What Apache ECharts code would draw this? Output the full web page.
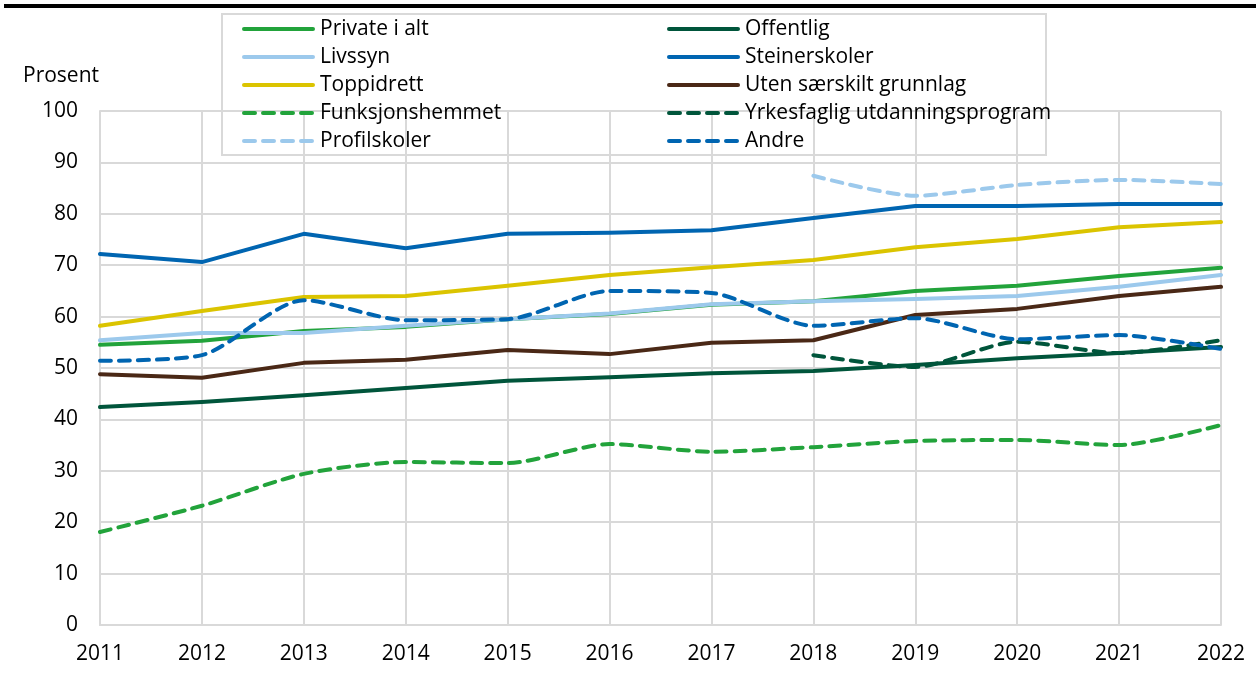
<!DOCTYPE html>
<html>
<head>
<meta charset="utf-8">
<script src="https://cdn.jsdelivr.net/npm/echarts@6/dist/echarts.min.js"></script>
<style>
  html, body { margin: 0; padding: 0; background: #fff; }
  #chart { width: 1258px; height: 675px; }
</style>
</head>
<body>
<div id="chart"></div>
<script>
// Years on the x axis
const years = ['2011','2012','2013','2014','2015','2016','2017','2018','2019','2020','2021','2022'];
const yTicks = [0, 10, 20, 30, 40, 50, 60, 70, 80, 90, 100];

// Share in percent per school group
const privateIAlt      = [54.5, 55.3, 57.2, 58.0, 59.5, 60.5, 62.3, 63.0, 65.0, 66.0, 67.9, 69.5];
const offentlig        = [42.4, 43.4, 44.7, 46.1, 47.5, 48.2, 49.0, 49.4, 50.6, 51.9, 52.9, 54.1];
const livssyn          = [55.4, 56.8, 56.8, 58.2, 59.5, 60.6, 62.4, 63.0, 63.4, 64.0, 65.8, 68.1];
const steinerskoler    = [72.2, 70.6, 76.1, 73.3, 76.1, 76.3, 76.8, 79.2, 81.5, 81.5, 81.9, 81.9];
const toppidrett       = [58.2, 61.1, 63.8, 64.0, 66.0, 68.1, 69.6, 71.0, 73.5, 75.1, 77.4, 78.4];
const utenGrunnlag     = [48.8, 48.1, 51.0, 51.6, 53.5, 52.7, 54.9, 55.4, 60.3, 61.5, 64.0, 65.8];
const funksjonshemmet  = [18.1, 23.2, 29.4, 31.7, 31.5, 35.2, 33.7, 34.6, 35.8, 36.0, 35.0, 38.9];
const yrkesfaglig      = [null, null, null, null, null, null, null, 52.5, 50.2, 55.1, 52.9, 55.4];
const profilskoler     = [null, null, null, null, null, null, null, 87.4, 83.5, 85.6, 86.6, 85.8];
const andre            = [51.4, 52.5, 63.2, 59.3, 59.5, 65.0, 64.6, 58.2, 59.7, 55.6, 56.4, 53.7];

const C = {
  green: '#22a33b',
  darkGreen: '#00553b',
  lightBlue: '#9cc9ec',
  blue: '#0065b1',
  yellow: '#dbc400',
  brown: '#4a2816'
};

function solid(name, data, color) {
  return {
    name, type: 'line', data, symbol: 'none', showSymbol: false, smooth: false,
    lineStyle: { color, width: 4, cap: 'round', join: 'round' },
    itemStyle: { color }
  };
}
function dashed(name, data, color) {
  return {
    name, type: 'line', data, symbol: 'none', showSymbol: false, smooth: 0.25,
    lineStyle: { color, width: 4, type: [11, 8], cap: 'round', join: 'round' },
    itemStyle: { color }
  };
}

const font = 'Open Sans';
const legendCommon = {
  orient: 'vertical',
  top: 17,
  padding: 0,
  itemWidth: 69,
  itemHeight: 14,
  itemGap: 4,
  itemStyle: { opacity: 0 },
  lineStyle: { width: 4 },
  textStyle: { fontFamily: font, fontSize: 21, color: '#000', lineHeight: 24, padding: [0, 0, 0, 2] },
  selectedMode: false
};

const chart = echarts.init(document.getElementById('chart'), null, { renderer: 'canvas' });
chart.setOption({
  animation: false,
  backgroundColor: '#fff',
  grid: { left: 100, right: 37, top: 111, bottom: 50 },
  legend: [
    Object.assign({}, legendCommon, {
      left: 242,
      data: ['Private i alt', 'Livssyn', 'Toppidrett', 'Funksjonshemmet', 'Profilskoler']
    }),
    Object.assign({}, legendCommon, {
      left: 667,
      data: ['Offentlig', 'Steinerskoler', 'Uten særskilt grunnlag', 'Yrkesfaglig utdanningsprogram', 'Andre']
    })
  ],
  graphic: [
    { type: 'rect', shape: { x: 4, y: 4, width: 1252, height: 4 }, style: { fill: '#000' }, silent: true },
    { type: 'rect', z: -1, shape: { x: 222, y: 14, width: 824, height: 141 },
      style: { fill: '#fff', stroke: '#d9d9d9', lineWidth: 2 }, silent: true },
    { type: 'text', x: 23, y: 76,
      style: { text: 'Prosent', font: '21px "Open Sans"', fill: '#000', verticalAlign: 'middle' } }
  ],
  xAxis: {
    type: 'category',
    data: years,
    boundaryGap: false,
    axisLine: { lineStyle: { color: '#d9d9d9', width: 2 } },
    axisTick: { show: false },
    axisLabel: { fontFamily: font, fontSize: 21, color: '#000', margin: 19 },
    splitLine: { show: true, lineStyle: { color: '#d9d9d9', width: 2 } }
  },
  yAxis: {
    type: 'value',
    min: yTicks[0],
    max: yTicks[yTicks.length - 1],
    interval: yTicks[1] - yTicks[0],
    axisLine: { show: true, lineStyle: { color: '#d9d9d9', width: 2 } },
    axisTick: { show: false },
    axisLabel: { fontFamily: font, fontSize: 21, color: '#000', margin: 22 },
    splitLine: { lineStyle: { color: '#d9d9d9', width: 2 } }
  },
  series: [
    solid('Private i alt', privateIAlt, C.green),
    solid('Offentlig', offentlig, C.darkGreen),
    solid('Livssyn', livssyn, C.lightBlue),
    solid('Steinerskoler', steinerskoler, C.blue),
    solid('Toppidrett', toppidrett, C.yellow),
    solid('Uten særskilt grunnlag', utenGrunnlag, C.brown),
    dashed('Funksjonshemmet', funksjonshemmet, C.green),
    dashed('Yrkesfaglig utdanningsprogram', yrkesfaglig, C.darkGreen),
    dashed('Profilskoler', profilskoler, C.lightBlue),
    dashed('Andre', andre, C.blue)
  ]
});
</script>
</body>
</html>
